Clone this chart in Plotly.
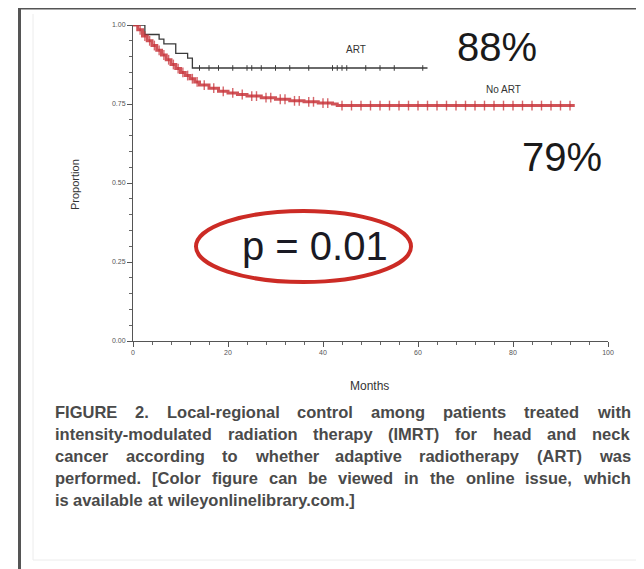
import plotly.graph_objects as go

# ---------------- data ----------------
art_months = [0, 2.5, 5.5, 6.5, 9.0, 11.5, 12.5, 62]
art_surv = [1.0, 0.97, 0.955, 0.94, 0.91, 0.895, 0.864, 0.864]
art_censor = [14, 16, 18, 21, 24, 25, 27, 30, 33, 37, 42, 43, 44, 45, 49, 52, 55, 61]

noart_months = [0, 1, 2, 3, 4, 5, 6, 7, 8, 9, 10, 11, 12, 13, 14, 16, 18, 20, 22, 24, 27, 30, 33, 36, 39, 42, 43, 93]
noart_surv = [1.0, 0.985, 0.965, 0.95, 0.935, 0.92, 0.905, 0.89, 0.875, 0.862, 0.85, 0.84, 0.83, 0.82,
              0.81, 0.80, 0.79, 0.785, 0.78, 0.775, 0.77, 0.765, 0.76, 0.757, 0.753, 0.75, 0.745, 0.745]
noart_censor = [1.5, 2.5, 3.5, 4.5, 5.5, 6.5, 7.5, 8.5, 9.5, 10.5, 11.5, 12.5, 13.5, 15, 17, 19, 21, 23,
                25, 26, 28, 29, 31, 32, 34, 35, 37, 38, 40, 41, 44, 46, 48, 50, 52, 54, 56, 58, 60, 62,
                64, 66, 68, 70, 72, 74, 76, 78, 80, 82, 84, 86, 88, 90, 92]

x_ticks = [0, 20, 40, 60, 80, 100]
y_ticks = [0.0, 0.25, 0.50, 0.75, 1.00]
y_tick_labels = ["0.00", "0.25", "0.50", "0.75", "1.00"]

caption_lines = [
    "FIGURE 2. Local-regional control among patients treated with",
    "intensity-modulated radiation therapy (IMRT) for head and neck",
    "cancer according to whether adaptive radiotherapy (ART) was",
    "performed. [Color figure can be viewed in the online issue, which",
    "is available at wileyonlinelibrary.com.]",
]

# ---------------- layout geometry (page pixels; body has an 8px margin) ----------------
PAGE_W, PAGE_H, BODY = 644, 569, 8
L, R, T, B = 133, 608, 25, 341
PW, PH = R - L, B - T


def px(x):
    return (x - L) / PW


def py(y):
    return (B - y) / PH


def step_value(times, surv, t):
    v = surv[0]
    for tt, s in zip(times, surv):
        if tt <= t:
            v = s
    return v


ART_COL = "#3a3a3a"
RED = "#c8343a"

fig = go.Figure()
fig.add_trace(go.Scatter(x=art_months, y=art_surv, mode="lines", line_shape="hv",
                         line=dict(color=ART_COL, width=1.3), showlegend=False))
fig.add_trace(go.Scatter(x=art_censor, y=[step_value(art_months, art_surv, t) for t in art_censor],
                         mode="markers", marker=dict(symbol="line-ns", size=4,
                                                     line=dict(color=ART_COL, width=1)),
                         showlegend=False))
fig.add_trace(go.Scatter(x=noart_months, y=noart_surv, mode="lines", line_shape="hv",
                         line=dict(color=RED, width=3), opacity=0.85, showlegend=False))
fig.add_trace(go.Scatter(x=noart_censor, y=[step_value(noart_months, noart_surv, t) for t in noart_censor],
                         mode="markers", marker=dict(symbol="line-ns", size=7,
                                                     line=dict(color=RED, width=1.4)),
                         opacity=0.75, showlegend=False))

ax_common = dict(showline=True, linecolor="#555", linewidth=1, showgrid=False, zeroline=False,
                 ticks="outside", ticklen=5, tickcolor="#555", tickwidth=1,
                 tickfont=dict(family="Liberation Sans, Arial", size=7, color="#555"))

fig.update_xaxes(range=[0, 100], tickvals=x_ticks, ticktext=[str(v) for v in x_ticks],
                 minor=dict(dtick=4, ticks="outside", ticklen=3, tickcolor="#666", tick0=0),
                 **ax_common)
fig.update_yaxes(range=[0, 1.0], tickvals=y_ticks, ticktext=y_tick_labels,
                 minor=dict(dtick=0.05, ticks="outside", ticklen=3, tickcolor="#666", tick0=0),
                 **ax_common)

annotations = []


def ann(text, x, y, size, color="#222", xanchor="center", yanchor="middle", textangle=0,
        family="Liberation Sans, Arial", weight="normal"):
    annotations.append(dict(text=text, x=px(x), y=py(y), xref="paper", yref="paper",
                            xanchor=xanchor, yanchor=yanchor, showarrow=False, textangle=textangle,
                            font=dict(family=family, size=size, color=color, weight=weight)))


ann("ART", 356, 50, 10, "#333")
ann("No ART", 503, 89, 10, "#333")
ann("88%", 497, 47, 40, "#1a1a1a")
ann("79%", 562, 157, 40, "#1a1a1a")
ann("p = 0.01", 315, 246, 40, "#1a1a24")
ann("Proportion", 75, 185, 11, "#333", textangle=-90)
ann("Months", 369, 386, 12, "#333")

# caption: justified text, word by word (Arial Bold / Liberation Sans Bold advance widths)
AW = {' ': 278, '(': 333, ')': 333, ',': 278, '-': 333, '.': 278, '[': 333, ']': 333,
      '0': 556, '1': 556, '2': 556, '3': 556, '4': 556, '5': 556, '6': 556, '7': 556, '8': 556, '9': 556,
      'A': 722, 'B': 722, 'C': 722, 'D': 722, 'E': 667, 'F': 611, 'G': 778, 'H': 722, 'I': 278,
      'J': 556, 'K': 722, 'L': 611, 'M': 833, 'N': 722, 'O': 778, 'P': 667, 'Q': 778, 'R': 722,
      'S': 667, 'T': 611, 'U': 722, 'V': 667, 'W': 944, 'X': 667, 'Y': 667, 'Z': 611,
      'a': 556, 'b': 611, 'c': 556, 'd': 611, 'e': 556, 'f': 333, 'g': 611, 'h': 611, 'i': 278,
      'j': 278, 'k': 556, 'l': 278, 'm': 889, 'n': 611, 'o': 611, 'p': 611, 'q': 611, 'r': 389,
      's': 556, 't': 333, 'u': 611, 'v': 556, 'w': 778, 'x': 556, 'y': 556, 'z': 500}
CAP_FS = 16.5
CAP_X0, CAP_X1 = 53, 628
CAP_Y0, CAP_DY = 412, 22


def tw(s):
    return sum(AW.get(c, 611) for c in s) / 1000.0 * CAP_FS


for i, line in enumerate(caption_lines):
    yline = CAP_Y0 + i * CAP_DY
    words = line.split(" ")
    if i < len(caption_lines) - 1 and len(words) > 1:
        gap = (CAP_X1 - CAP_X0 - sum(tw(w) for w in words)) / (len(words) - 1)
    else:
        gap = tw(" ")
    xcur = CAP_X0
    for w in words:
        ann(w, xcur, yline, CAP_FS, "#4a4a4a", xanchor="left", weight="bold")
        xcur += tw(w) + gap

# shapes: red ellipse, outer frame
shapes = [
    dict(type="circle", xref="paper", yref="paper", x0=px(196), x1=px(411), y0=py(282), y1=py(211),
         line=dict(color="#cc2b25", width=4)),
    dict(type="line", xref="paper", yref="paper", x0=px(33), x1=px(33), y0=py(560), y1=py(14),
         line=dict(color="#ececec", width=1)),
    dict(type="line", xref="paper", yref="paper", x0=px(33), x1=px(650), y0=py(560), y1=py(560),
         line=dict(color="#ececec", width=1)),
    dict(type="line", xref="paper", yref="paper", x0=px(18), x1=px(650), y0=py(8), y1=py(8),
         line=dict(color="#555", width=3)),
    dict(type="line", xref="paper", yref="paper", x0=px(19.5), x1=px(19.5), y0=py(7), y1=py(575),
         line=dict(color="#555", width=3)),
]

fig.update_layout(width=PAGE_W - BODY, height=PAGE_H - BODY, paper_bgcolor="white", plot_bgcolor="white",
                  margin=dict(l=L - BODY, r=PAGE_W - R, t=T - BODY, b=PAGE_H - B, autoexpand=False),
                  annotations=annotations, shapes=shapes, showlegend=False)

fig.write_html("out.html")
